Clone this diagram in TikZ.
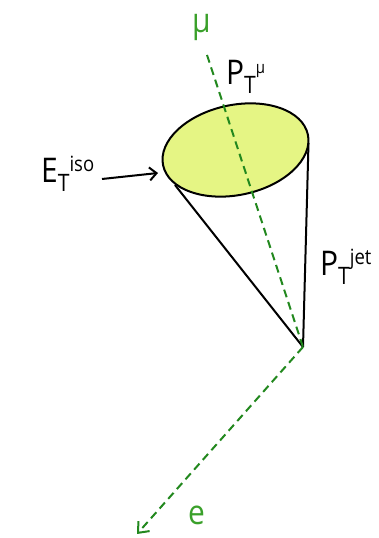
\documentclass[tikz,border=0pt]{standalone}
\usepackage{fontspec}
\setmainfont{Open Sans}[FakeStretch=0.88]
\usetikzlibrary{arrows.meta,shapes.geometric}
\definecolor{capfill}{RGB}{229,245,132}
\definecolor{dgreen}{RGB}{34,136,30}
\definecolor{lgreen}{RGB}{58,160,42}
\newcommand\biglab[3]{#1\raisebox{-9pt}{\fontsize{24}{24}\selectfont #2}\raisebox{11pt}{\fontsize{21}{21}\selectfont #3}}
\tikzset{
  conel/.style={line width=2pt, black},
  greendash/.style={dgreen, line width=2pt, dash pattern=on 8pt off 5pt},
  lab/.style={inner sep=0pt, font=\fontsize{34}{34}\selectfont, anchor=base west},
  greenlab/.style={lgreen, inner sep=0pt, font=\fontsize{34}{34}\selectfont, anchor=base},
}
\begin{document}
\begin{tikzpicture}[x=1pt,y=1pt]
\useasboundingbox (0,0) rectangle (379,538);
% cap ellipse
\node[ellipse, draw, line width=2pt, fill=capfill, minimum width=148pt,
      minimum height=90pt, rotate=12, inner sep=0pt] (cap) at (235.5,388) {};
\coordinate (apex) at (303,191);
\coordinate (tl) at (175,353);
\coordinate (tr) at (308.5,395);
\coordinate (mutop) at (207,483);
\coordinate (etip) at (137,4);
\coordinate (isofrom) at (102,359);
\coordinate (isotip) at (158,365);
% cone
\draw[conel] (tl) -- (apex);
\draw[conel] (tr) -- (apex);
% muon axis
\draw[greendash] (mutop) -- (apex);
% electron
\draw[greendash, -{Straight Barb[length=9pt,width=15pt,line width=2pt]}] (apex) -- (etip);
% iso arrow
\draw[line width=2pt, -{Straight Barb[length=7pt,width=13pt,line width=2pt]}] (isofrom) -- (isotip);
% labels
\node[lab] (iso) at (41,355) {\biglab{E}{T}{iso}};
\node[lab] (ptmu) at (226,453) {\biglab{P}{T}{\fontsize{17}{17}\selectfont μ}};
\node[lab] (ptjet) at (320,262) {\biglab{P}{T}{jet}};
\node[greenlab] (mu) at (201.5,505) {μ};
\node[greenlab] (e) at (196.5,13) {e};
\end{tikzpicture}
\end{document}
